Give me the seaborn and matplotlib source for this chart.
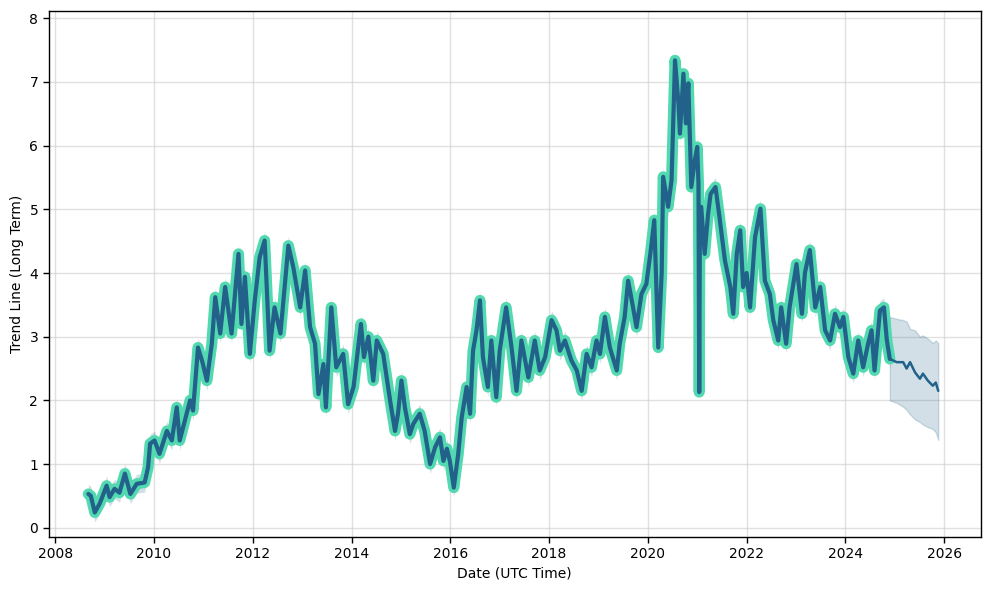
import matplotlib
matplotlib.use("Agg")
import matplotlib.pyplot as plt
import seaborn as sns
import numpy as np
import pandas as pd
from matplotlib.ticker import MultipleLocator

# ---- data ----
hist_years = [
    2008.67, 2008.72, 2008.80, 2008.90, 2009.04, 2009.10, 2009.20, 2009.30, 2009.41, 2009.52,
    2009.65, 2009.81, 2009.88, 2009.92, 2010.01, 2010.11, 2010.26, 2010.36, 2010.46, 2010.52,
    2010.63, 2010.73, 2010.79, 2010.89, 2010.98, 2011.07, 2011.17, 2011.24, 2011.34, 2011.44,
    2011.57, 2011.71, 2011.77, 2011.84, 2011.94, 2012.04, 2012.14, 2012.24, 2012.34, 2012.44,
    2012.56, 2012.72, 2012.82, 2012.96, 2013.06, 2013.16, 2013.26, 2013.33, 2013.43, 2013.48,
    2013.59, 2013.69, 2013.83, 2013.93, 2014.04, 2014.19, 2014.25, 2014.34, 2014.44, 2014.51,
    2014.64, 2014.78, 2014.88, 2014.94, 2015.01, 2015.08, 2015.18, 2015.25, 2015.38, 2015.48,
    2015.59, 2015.69, 2015.79, 2015.86, 2015.93, 2015.99, 2016.07, 2016.16, 2016.23, 2016.33,
    2016.40, 2016.46, 2016.53, 2016.60, 2016.66, 2016.76, 2016.83, 2016.93, 2017.00, 2017.13,
    2017.24, 2017.34, 2017.44, 2017.58, 2017.71, 2017.81, 2017.92, 2018.05, 2018.15, 2018.22,
    2018.32, 2018.45, 2018.56, 2018.66, 2018.76, 2018.86, 2018.96, 2019.03, 2019.13, 2019.23,
    2019.37, 2019.43, 2019.53, 2019.60, 2019.70, 2019.77, 2019.87, 2019.97, 2020.05, 2020.13,
    2020.21, 2020.28, 2020.31, 2020.41, 2020.48, 2020.55, 2020.62, 2020.65, 2020.72, 2020.77,
    2020.82, 2020.88, 2020.95, 2021.00, 2021.025, 2021.04, 2021.055, 2021.08, 2021.15, 2021.22,
    2021.27, 2021.37, 2021.45, 2021.56, 2021.67, 2021.73, 2021.80, 2021.87, 2021.93, 2022.00,
    2022.07, 2022.17, 2022.28, 2022.37, 2022.47, 2022.54, 2022.64, 2022.70, 2022.80, 2022.87,
    2023.01, 2023.12, 2023.18, 2023.28, 2023.39, 2023.49, 2023.59, 2023.69, 2023.79, 2023.89,
    2023.96, 2024.06, 2024.16, 2024.26, 2024.36, 2024.46, 2024.53, 2024.59, 2024.70, 2024.78,
    2024.84, 2024.90,
]
hist_values = [
    0.53, 0.50, 0.24, 0.38, 0.66, 0.48, 0.61, 0.55, 0.85, 0.53,
    0.69, 0.71, 0.95, 1.32, 1.37, 1.16, 1.52, 1.37, 1.89, 1.37,
    1.70, 2.00, 1.84, 2.83, 2.60, 2.31, 2.89, 3.62, 3.05, 3.78,
    3.05, 4.30, 3.20, 3.94, 2.73, 3.57, 4.25, 4.51, 2.78, 3.46,
    3.05, 4.43, 4.09, 3.46, 4.04, 3.15, 2.89, 2.10, 2.57, 1.89,
    3.46, 2.52, 2.73, 1.94, 2.21, 3.20, 2.68, 3.00, 2.31, 2.94,
    2.73, 2.00, 1.52, 1.79, 2.31, 1.89, 1.47, 1.63, 1.79, 1.52,
    1.00, 1.26, 1.42, 1.05, 1.24, 1.05, 0.63, 1.16, 1.73, 2.21,
    1.79, 2.78, 3.10, 3.57, 2.68, 2.21, 2.94, 2.05, 2.78, 3.46,
    2.83, 2.15, 2.94, 2.36, 2.94, 2.47, 2.68, 3.26, 3.10, 2.78,
    2.94, 2.63, 2.47, 2.15, 2.73, 2.52, 2.94, 2.73, 3.31, 2.83,
    2.47, 2.89, 3.31, 3.88, 3.46, 3.15, 3.67, 3.83, 4.30, 4.83,
    2.83, 4.00, 5.51, 5.04, 5.46, 7.34, 6.66, 6.19, 7.13, 6.35,
    6.98, 5.35, 5.77, 5.98, 5.40, 2.13, 5.00, 5.04, 4.30, 4.93,
    5.24, 5.35, 4.88, 4.20, 3.78, 3.36, 4.30, 4.67, 3.78, 4.00,
    3.46, 4.56, 5.01, 3.88, 3.67, 3.26, 2.94, 3.46, 2.89, 3.46,
    4.14, 3.36, 4.00, 4.36, 3.46, 3.78, 3.10, 2.94, 3.36, 3.15,
    3.31, 2.68, 2.42, 2.94, 2.52, 2.89, 3.10, 2.47, 3.41, 3.46,
    2.94, 2.65,
]
hist_band_halfwidth = 0.15

fc_years = [2024.90, 2025.04, 2025.17, 2025.24, 2025.31, 2025.41, 2025.51, 2025.57,
            2025.67, 2025.77, 2025.83, 2025.88]
fc_values = [2.65, 2.60, 2.60, 2.50, 2.60, 2.44, 2.34, 2.42, 2.31, 2.23, 2.28, 2.15]
fc_upper = [3.31, 3.28, 3.26, 3.24, 3.12, 3.10, 3.00, 3.02, 2.97, 2.90, 2.94, 2.90]
fc_lower = [2.00, 1.96, 1.90, 1.85, 1.78, 1.70, 1.66, 1.62, 1.58, 1.55, 1.50, 1.38]

# ---- styling ----
dark = "#22618a"
turq = "#52d9b0"

sns.set_theme(style="white")
plt.rcParams["font.family"] = ["DejaVu Sans"]

fig, ax = plt.subplots(figsize=(9.89, 5.9), dpi=100)
fig.subplots_adjust(left=0.0492, right=0.9916, top=0.9819, bottom=0.0898)

hist_df = pd.DataFrame({"year": hist_years, "value": hist_values})
fc_df = pd.DataFrame({"year": fc_years, "value": fc_values})

hv = np.array(hist_values)
ax.fill_between(hist_years, hv - hist_band_halfwidth, hv + hist_band_halfwidth,
                color=dark, alpha=0.2, linewidth=0, zorder=1)
ax.fill_between(fc_years, fc_lower, fc_upper, color=dark, alpha=0.2, linewidth=1, zorder=1)

sns.lineplot(data=hist_df, x="year", y="value", color=turq, linewidth=8,
             solid_joinstyle="round", solid_capstyle="round", ax=ax, zorder=2)
sns.lineplot(data=hist_df, x="year", y="value", color=dark, linewidth=3, ax=ax, zorder=3)
sns.lineplot(data=fc_df, x="year", y="value", color=dark, linewidth=1.8, ax=ax, zorder=3)

ax.set_xlim(2007.866, 2026.74)
ax.set_ylim(-0.146, 8.12)
ax.xaxis.set_major_locator(MultipleLocator(2))
ax.yaxis.set_major_locator(MultipleLocator(1))
ax.xaxis.set_major_formatter(plt.FuncFormatter(lambda v, p: f"{int(round(v))}"))

ax.grid(True, color="#cccccc", alpha=0.6, linewidth=1)
for s in ax.spines.values():
    s.set_color("black")
    s.set_linewidth(1)
ax.tick_params(axis="both", which="major", length=4, width=1, color="black",
               labelsize=10, labelcolor="black", bottom=True, left=True)
ax.set_xlabel("Date (UTC Time)", fontsize=10, color="black")
ax.set_ylabel("Trend Line (Long Term)", fontsize=10, color="black")

fig.savefig("out.png", dpi=100)
